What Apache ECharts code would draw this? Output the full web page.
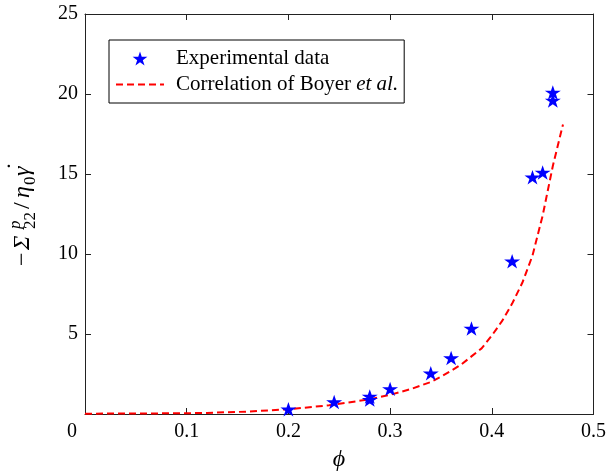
<!DOCTYPE html>
<html>
<head>
<meta charset="utf-8">
<script src="https://cdn.jsdelivr.net/npm/echarts@6/dist/echarts.min.js"></script>
<style>
html,body{margin:0;padding:0;background:#fff;}
#chart{width:609px;height:476px;}
</style>
</head>
<body>
<div id="chart"></div>
<script>
// ---- data ----
var phiExp   = [0.20, 0.245, 0.28, 0.28, 0.30, 0.34, 0.36, 0.38, 0.42, 0.44, 0.45, 0.46, 0.46];
var sigmaExp = [0.30, 0.75, 1.10, 0.90, 1.57, 2.55, 3.50, 5.35, 9.55, 14.8, 15.1, 20.1, 19.6];

var phiCurve   = [0, 0.05, 0.10, 0.12, 0.16, 0.20, 0.24, 0.28, 0.30, 0.32, 0.34, 0.35, 0.36, 0.37, 0.38, 0.39, 0.40, 0.41, 0.42, 0.43, 0.44, 0.45, 0.46, 0.47];
var sigmaCurve = [0.02, 0.03, 0.05, 0.07, 0.15, 0.30, 0.54, 0.92, 1.20, 1.55, 2.00, 2.33, 2.70, 3.10, 3.60, 4.10, 4.90, 5.80, 6.90, 8.20, 9.90, 12.4, 15.5, 18.1];

var xTicks = [0, 0.1, 0.2, 0.3, 0.4, 0.5];
var yTicks = [0, 5, 10, 15, 20, 25];
var seriesNames = ['Experimental data', 'Correlation of Boyer et al.'];

// ---- chart ----
var FONT = '"Liberation Serif", "DejaVu Serif", serif';
var AX = '#222222';
var starPath = 'path://M0,-10L2.245,-3.09L9.51,-3.09L3.633,1.18L5.878,8.09L0,3.82L-5.878,8.09L-3.633,1.18L-9.51,-3.09L-2.245,-3.09Z';

var expData = phiExp.map(function (p, i) { return [p, sigmaExp[i]]; });
var curveData = phiCurve.map(function (p, i) { return [p, sigmaCurve[i]]; });

function fmtX(v) {
  if (v === 0) return '{z|0}';
  return String(v);
}

function axisBase() {
  return {
    min: 0,
    axisLine: { show: true, onZero: false, lineStyle: { color: AX, width: 1 } },
    axisTick: { show: true, inside: true, length: 6, lineStyle: { color: AX, width: 1 } },
    splitLine: { show: false }
  };
}

var chart = echarts.init(document.getElementById('chart'), null, { renderer: 'canvas' });
chart.setOption({
  animation: false,
  backgroundColor: '#ffffff',
  grid: { left: 85, right: 14, top: 14, bottom: 62, containLabel: false },
  xAxis: [
    Object.assign(axisBase(), {
      type: 'value', position: 'bottom', max: xTicks[xTicks.length - 1], interval: 0.1,
      axisLabel: {
        show: true, margin: 8, color: '#000', fontFamily: FONT, fontSize: 20,
        formatter: fmtX,
        rich: { z: { fontFamily: FONT, fontSize: 20, color: '#000', padding: [0, 26, 0, 0] } }
      }
    }),
    Object.assign(axisBase(), {
      type: 'value', position: 'top', max: xTicks[xTicks.length - 1], interval: 0.1,
      axisLabel: { show: false }
    })
  ],
  yAxis: [
    Object.assign(axisBase(), {
      type: 'value', position: 'left', max: yTicks[yTicks.length - 1], interval: 5,
      axisLabel: {
        show: true, margin: 7, color: '#000', fontFamily: FONT, fontSize: 20,
        formatter: function (v) { return v === 0 ? '' : String(v); }
      }
    }),
    Object.assign(axisBase(), {
      type: 'value', position: 'right', max: yTicks[yTicks.length - 1], interval: 5,
      axisLabel: { show: false }
    })
  ],
  legend: {
    show: true,
    orient: 'vertical',
    left: 109, top: 40,
    padding: [8, 6, 8, 6],
    itemGap: 5,
    itemWidth: 48, itemHeight: 14,
    borderColor: '#000', borderWidth: 1, backgroundColor: '#fff',
    data: [
      { name: seriesNames[0], icon: starPath },
      { name: seriesNames[1] }
    ],
    formatter: function (name) {
      if (name === seriesNames[1]) return '{t|Correlation of Boyer }{i|et al.}';
      return '{t|' + name + '}';
    },
    textStyle: {
      color: '#000', fontFamily: FONT, fontSize: 21, padding: [0, 0, 0, 7],
      rich: {
        t: { fontFamily: FONT, fontSize: 21, color: '#000' },
        i: { fontFamily: FONT, fontSize: 21, color: '#000', fontStyle: 'italic' }
      }
    }
  },
  series: [
    {
      name: seriesNames[0], type: 'scatter', xAxisIndex: 0, yAxisIndex: 0,
      data: expData,
      symbol: starPath, symbolSize: [16, 15.2], symbolKeepAspect: true,
      itemStyle: { color: '#0000ff', opacity: 1 },
      z: 3
    },
    {
      name: seriesNames[1], type: 'line', xAxisIndex: 0, yAxisIndex: 0,
      data: curveData,
      symbol: 'path://M0,0L1,1', showSymbol: false, smooth: false,
      lineStyle: { color: '#ff0000', width: 2, type: [7, 4] },
      itemStyle: { color: '#ff0000', borderWidth: 0 },
      z: 2
    }
  ],
  graphic: [
    // x-axis name: phi
    { type: 'text', x: 339, y: 460, style: { text: 'ϕ', font: 'italic 24px ' + FONT, fill: '#000', align: 'center', verticalAlign: 'middle' } },
    // y-axis name: −Σ^p_22 / η_0 γ̇  (rotated, reading bottom to top)
    { type: 'text', x: 23, y: 266, rotation: Math.PI / 2, style: { text: '−', font: '24px ' + FONT, fill: '#000', align: 'left', verticalAlign: 'middle' } },
    { type: 'text', x: 23, y: 250, rotation: Math.PI / 2, style: { text: 'Σ', font: 'italic 24px ' + FONT, fill: '#000', align: 'left', verticalAlign: 'middle' } },
    { type: 'text', x: 16, y: 229, rotation: Math.PI / 2, style: { text: 'p', font: 'italic 17px ' + FONT, fill: '#000', align: 'left', verticalAlign: 'middle' } },
    { type: 'text', x: 31, y: 229, rotation: Math.PI / 2, style: { text: '22', font: '17px ' + FONT, fill: '#000', align: 'left', verticalAlign: 'middle' } },
    { type: 'text', x: 23, y: 209, rotation: Math.PI / 2, style: { text: '/', font: '24px ' + FONT, fill: '#000', align: 'left', verticalAlign: 'middle' } },
    { type: 'text', x: 23, y: 198, rotation: Math.PI / 2, style: { text: 'η', font: 'italic 24px ' + FONT, fill: '#000', align: 'left', verticalAlign: 'middle' } },
    { type: 'text', x: 31, y: 185, rotation: Math.PI / 2, style: { text: '0', font: '17px ' + FONT, fill: '#000', align: 'left', verticalAlign: 'middle' } },
    { type: 'text', x: 23, y: 176, rotation: Math.PI / 2, style: { text: 'γ', font: 'italic 24px ' + FONT, fill: '#000', align: 'left', verticalAlign: 'middle' } },
    { type: 'text', x: 17, y: 170, rotation: Math.PI / 2, style: { text: '˙', font: '24px ' + FONT, fill: '#000', align: 'left', verticalAlign: 'middle' } }
  ]
});
</script>
</body>
</html>
